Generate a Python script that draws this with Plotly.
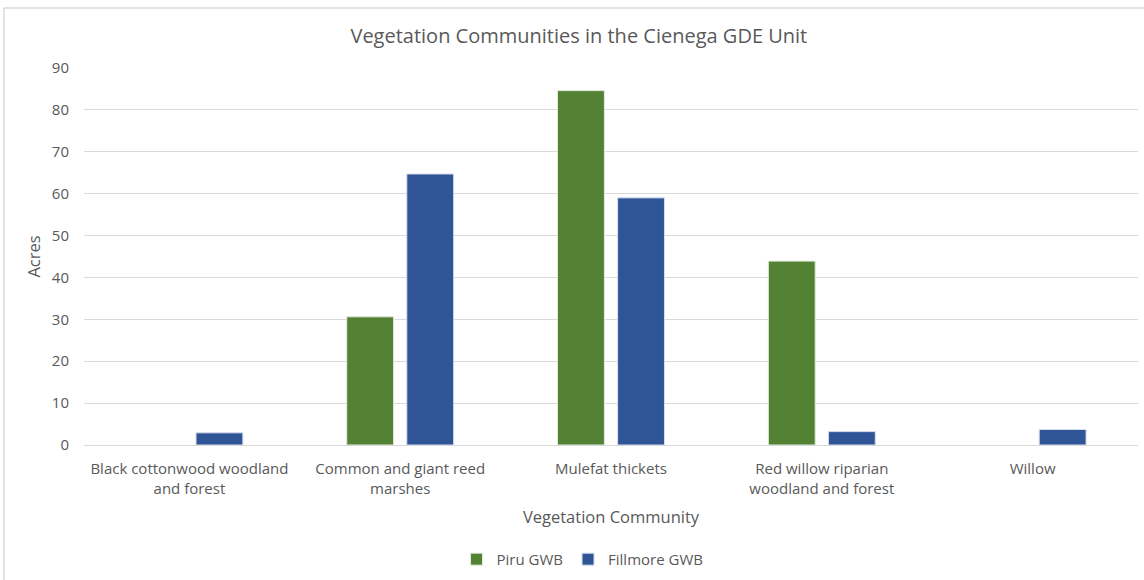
import plotly.graph_objects as go

CATEGORIES = [
    "Black cottonwood woodland<br>and forest",
    "Common and giant reed<br>marshes",
    "Mulefat thickets",
    "Red willow riparian<br>woodland and forest",
    "Willow",
]
PIRU_ACRES = [None, 30.6, 84.6, 43.9, None]
FILLMORE_ACRES = [2.9, 64.7, 59.0, 3.2, 3.7]
Y_TICKS = [0, 10, 20, 30, 40, 50, 60, 70, 80, 90]

TEXT_GREY = "#595959"
GRID_GREY = "#D9D9D9"
FONT = "Open Sans, Segoe UI, sans-serif"

fig = go.Figure()
fig.add_trace(
    go.Bar(
        x=CATEGORIES,
        y=PIRU_ACRES,
        name="Piru GWB",
        marker=dict(color="#548235", line=dict(color="#E2EBDA", width=1)),
    )
)
fig.add_trace(
    go.Bar(
        x=CATEGORIES,
        y=FILLMORE_ACRES,
        name="Fillmore GWB",
        marker=dict(color="#2F5597", line=dict(color="#D6DEEE", width=1)),
    )
)

# chart-area border (top and left edges visible in the crop)
for x0, y0, x1, y1 in [(-0.076, 1.159, 1.2, 1.159), (-0.076, 1.159, -0.076, -0.6)]:
    fig.add_shape(
        type="line", xref="paper", yref="paper",
        x0=x0, y0=y0, x1=x1, y1=y1,
        line=dict(color="#D9D9D9", width=1.5),
    )

fig.update_layout(
    width=1144,
    height=580,
    margin=dict(l=84, r=6, t=68, b=134),
    paper_bgcolor="white",
    plot_bgcolor="white",
    font=dict(family=FONT, color=TEXT_GREY, size=15),
    title=dict(
        text="Vegetation Communities in the Cienega GDE Unit",
        font=dict(size=20, color=TEXT_GREY),
        x=0.506, xanchor="center", xref="container",
        y=0.938, yanchor="middle",
    ),
    barmode="group",
    bargap=0.43,
    bargroupgap=0.22,
    showlegend=True,
    legend=dict(
        orientation="h",
        x=0.473, xanchor="center",
        y=-0.30, yanchor="middle",
        font=dict(size=15, color=TEXT_GREY),
        itemwidth=30,
    ),
)

fig.update_xaxes(
    title=dict(text="Vegetation Community", font=dict(size=16.5, color=TEXT_GREY), standoff=14),
    showgrid=False,
    showline=True,
    linecolor=GRID_GREY,
    linewidth=1,
    ticks="",
    ticklabelstandoff=10,
    tickfont=dict(size=15, color=TEXT_GREY),
)

fig.update_yaxes(
    title=dict(text="Acres", font=dict(size=16.5, color=TEXT_GREY), standoff=7),
    range=[0, 90],
    tickvals=Y_TICKS,
    showgrid=True,
    gridcolor=GRID_GREY,
    gridwidth=1,
    zeroline=False,
    showline=False,
    ticks="",
    ticklabelstandoff=14,
    tickfont=dict(size=15, color=TEXT_GREY),
)

# drop the default 8px body margin so the figure sits at the page origin
fig.write_html(
    "out.html",
    config={"displayModeBar": False},
    post_script="document.body.style.margin = '0';",
)
